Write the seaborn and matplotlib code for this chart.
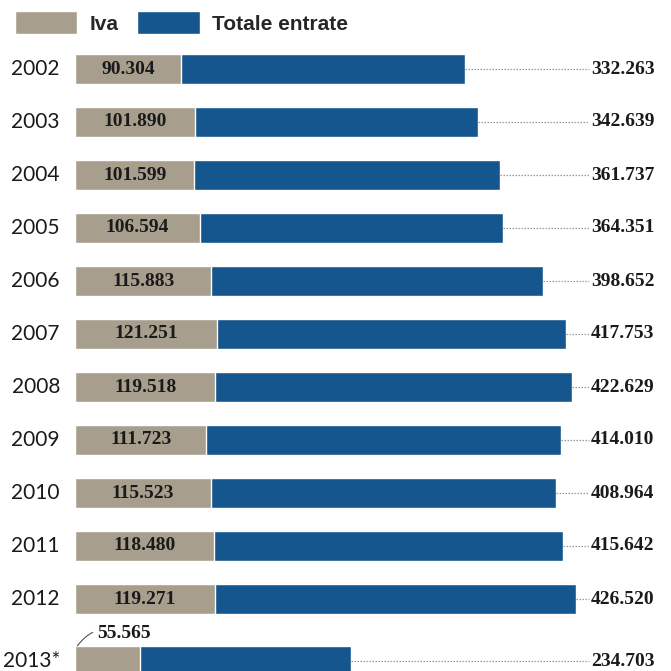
import matplotlib
matplotlib.use("Agg")
import matplotlib.pyplot as plt
from matplotlib import font_manager as fm
from matplotlib.patches import Patch
import numpy as np
import pandas as pd
import seaborn as sns

years = ["2002", "2003", "2004", "2005", "2006", "2007", "2008",
         "2009", "2010", "2011", "2012", "2013*"]
iva = [90.304, 101.890, 101.599, 106.594, 115.883, 121.251, 119.518,
       111.723, 115.523, 118.480, 119.271, 55.565]
totale_entrate = [332.263, 342.639, 361.737, 364.351, 398.652, 417.753, 422.629,
                  414.010, 408.964, 415.642, 426.520, 234.703]

TAN = "#a89e8d"
BLUE = "#15568e"
num_font = dict(family="Liberation Serif", fontsize=14, weight="bold", color="#1a1a1a")

# row positions, last row pushed down a little to leave room for its label
pos = np.arange(len(years), dtype=float)
pos[-1] += 0.17

df = pd.DataFrame({"year": years, "pos": pos, "Iva": iva, "Totale": totale_entrate})

sns.set_style("white")
fig = plt.figure(figsize=(6.71, 6.71), dpi=100)
scale = 1.175  # px per unit
ax = fig.add_axes([75 / 671, 0, 596 / 671, 1])

sns.barplot(data=df, x="Totale", y="pos", orient="y", native_scale=True,
            color=BLUE, saturation=1, width=0.57, ax=ax)
sns.barplot(data=df, x="Iva", y="pos", orient="y", native_scale=True,
            color=TAN, saturation=1, width=0.57, ax=ax)

ax.set_xlim(0, 596 / scale)
ax.set_ylim((671 - 69) / 53, -69 / 53)
ax.axis("off")

label_x = (591 - 75) / scale
for i, row in df.iterrows():
    ax.text(-15 / scale, row["pos"], row["year"], ha="right", va="center",
            family="Lato", fontsize=15, color="#1a1a1a")
    ax.plot([row["Totale"], label_x - 2], [row["pos"], row["pos"]],
            ls=(0, (1.2, 1.2)), color="#9a9a9a", lw=0.9)
    ax.text(label_x, row["pos"], f"{row['Totale']:.3f}", ha="left", va="center",
            **num_font)
    lab = f"{row['Iva']:.3f}"
    if i < len(years) - 1:
        ax.text(row["Iva"] / 2, row["pos"], lab, ha="center", va="center", **num_font)
    else:
        ax.annotate(lab, xy=(2, row["pos"] - 0.285), xytext=(19, row["pos"] - 0.52),
                    ha="left", va="center",
                    arrowprops=dict(arrowstyle="-", color="#555555", lw=0.8,
                                    connectionstyle="arc3,rad=0.4",
                                    shrinkA=1, shrinkB=0),
                    **num_font)

legend_font = fm.FontProperties(family="Liberation Sans", weight="bold", size=15)
handles = [Patch(facecolor=TAN, label="Iva"), Patch(facecolor=BLUE, label="Totale entrate")]
fig.legend(handles=handles, loc="upper left", bbox_to_anchor=(0.0, 1.005), ncol=2,
           frameon=False, handlelength=3.0, handleheight=1.3, handletextpad=0.6,
           columnspacing=0.9, borderaxespad=0.3, prop=legend_font)

fig.savefig("out.png", dpi=100)
